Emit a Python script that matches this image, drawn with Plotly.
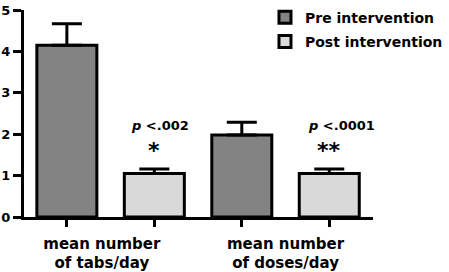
import plotly.graph_objects as go

categories = ["mean number<br>of tabs/day", "mean number<br>of doses/day"]
series_names = ["Pre intervention", "Post intervention"]
pre_values = [4.15, 1.98]
pre_errors = [0.52, 0.31]
post_values = [1.05, 1.05]
post_errors = [0.11, 0.11]
p_labels = ["<i>p</i> <.002", "<i>p</i> <.0001"]
stars = ["*", "**"]
y_ticks = [0, 1, 2, 3, 4, 5]

n = len(categories)
x_pre = [2 * i for i in range(n)]
x_post = [2 * i + 1 for i in range(n)]

BOLD = "DejaVu Sans"

fig = go.Figure()
fig.add_trace(go.Bar(
    name="<b>" + series_names[0] + "</b>", x=x_pre, y=pre_values, width=0.686,
    legendgroup="pre",
    marker=dict(color="#838383", line=dict(color="black", width=3)),
    error_y=dict(type="data", array=pre_errors, arrayminus=[0] * n, symmetric=False,
                 color="black", thickness=3, width=15),
))
fig.add_trace(go.Bar(
    name="<b>" + series_names[1] + "</b>", x=x_post, y=post_values, width=0.686,
    legendgroup="post",
    marker=dict(color="#d9d9d9", line=dict(color="black", width=3)),
    error_y=dict(type="data", array=post_errors, arrayminus=[0] * n, symmetric=False,
                 color="black", thickness=3, width=15),
))

for i in range(n):
    top = post_values[i] + post_errors[i]
    fig.add_annotation(x=x_post[i], y=top, text="<b>" + stars[i] + "</b>", showarrow=False,
                       yanchor="bottom", yshift=4,
                       font=dict(family=BOLD, size=22, color="black"))
    fig.add_annotation(x=x_post[i] + 0.07 * (i + 1), y=top, text="<b>" + p_labels[i] + "</b>",
                       showarrow=False, yanchor="bottom", yshift=34,
                       font=dict(family=BOLD, size=13, color="black"))

fig.update_layout(
    width=449, height=272,
    margin=dict(l=24, r=76, t=9.5, b=55, autoexpand=False),
    paper_bgcolor="white", plot_bgcolor="white",
    barmode="overlay",
    showlegend=True,
    legend=dict(x=0.6905, y=1.04, xanchor="left", yanchor="top",
                font=dict(family=BOLD, size=14, color="black"),
                bgcolor="rgba(0,0,0,0)", tracegroupgap=3, traceorder="grouped",
                itemwidth=30),
    xaxis=dict(range=[-0.49, 3.5], showgrid=False, zeroline=False, automargin=False,
               showline=True, linecolor="black", linewidth=2.5,
               tickvals=[0.4, 2.5], ticktext=categories, ticks="", ticklen=0,
               ticklabelstandoff=11,
               tickfont=dict(family=BOLD, size=15, color="black", weight="bold"),
               minor=dict(tickvals=x_pre + x_post, ticks="outside", ticklen=7,
                          tickwidth=2.5, tickcolor="black")),
    yaxis=dict(range=[0, 5], showgrid=False, zeroline=False, automargin=False,
               showline=True, linecolor="black", linewidth=3,
               tickvals=y_ticks, ticks="outside", ticklen=8, tickwidth=2.5, tickcolor="black",
               tickfont=dict(family=BOLD, size=13, color="black", weight="bold")),
)

fig.write_html("out.html", config={"displayModeBar": False},
               post_script="document.body.style.margin='0';")
